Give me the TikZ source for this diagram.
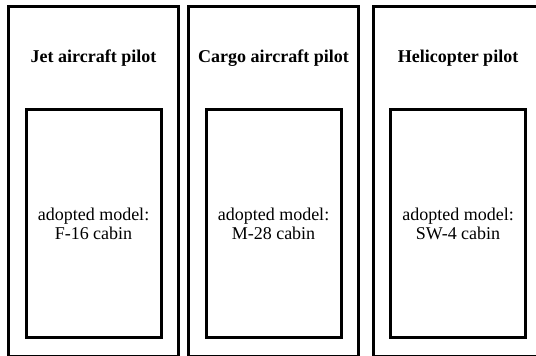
\documentclass[tikz,border=0pt]{standalone}
\usepackage{fontspec}
\setmainfont{Liberation Serif}
\usepackage{tikz}
\usetikzlibrary{positioning}

\begin{document}
\begin{tikzpicture}[
        x=0.75pt, y=0.75pt,
        pilotbox/.style={draw=black, line width=2.25pt, minimum width=127.5pt, minimum height=262.5pt, inner sep=0},
        cabinbox/.style={draw=black, line width=2.25pt, minimum width=101.25pt, minimum height=171pt, inner sep=0, align=center, font=\fontsize{13.5}{14}\selectfont},
        title/.style={font=\fontsize{13.5}{15}\selectfont\bfseries, inner sep=0}
    ]
        \useasboundingbox (0,0) rectangle (536,356);

        % pilot columns: number/title/cabin/x position
        \def\pilots{
            1/Jet aircraft pilot/F-16/93.5,
            2/Cargo aircraft pilot/M-28/273.5,
            3/Helicopter pilot/SW-4/458
        }

        \foreach \n/\pilotname/\model/\x in \pilots {
            \node[pilotbox] (pilot-\n) at (\x, 174.6) {};
            \node[title] (title-\n) at (\x, 298) {\pilotname};
            \node[cabinbox] (cabin-\n) at (\x, 132) {adopted model:\\\model{} cabin};
        }

    \end{tikzpicture}
\end{document}
